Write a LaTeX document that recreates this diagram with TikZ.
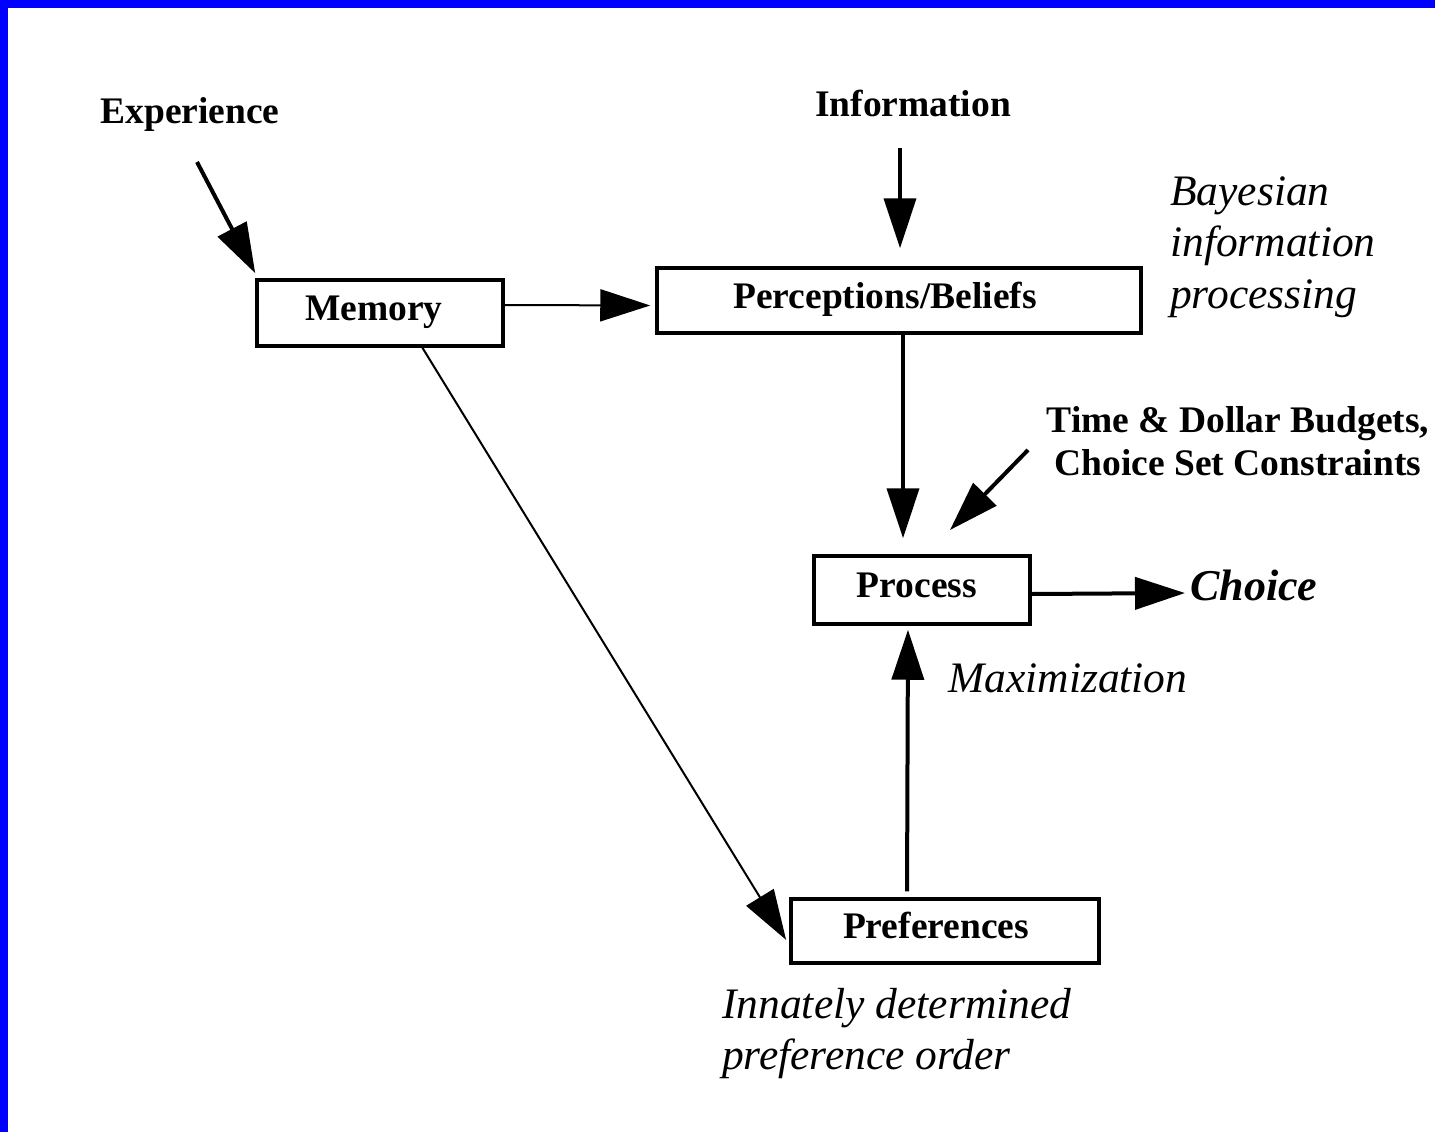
\documentclass[tikz,border=0pt]{standalone}
\usepackage{fontspec}
\setmainfont{Liberation Serif}
\usetikzlibrary{arrows.meta,calc}

\begin{document}
\begin{tikzpicture}[x=1pt,y=-1pt,
		box/.style={draw,line width=3.5pt,inner sep=0pt,text height=27pt,text depth=12pt,font=\fontsize{37.5}{43}\selectfont\bfseries},
		lab/.style={inner sep=0pt,font=\fontsize{37.5}{43}\selectfont\bfseries},
		note/.style={inner sep=0pt,align=left,font=\fontsize{43.5}{51.5}\selectfont\itshape},
		arr/.style={-{Triangle[length=50pt,width=32pt]},line width=4pt},
		thinarr/.style={arr,line width=2pt}]
		\useasboundingbox (0,0) rectangle (1435,1132);
		\fill[blue] (0,0) rectangle (8,1132);
		\fill[blue] (0,0) rectangle (1435,8);
		
		% boxes
		\node[box,minimum width=246pt,minimum height=66pt] (memory) at (380,313) {Memory\hspace*{12pt}};
		\node[box,minimum width=484pt,minimum height=65pt] (percep) at (899,300.5) {Perceptions/Beliefs\hspace*{28pt}};
		\node[box,minimum width=216pt,minimum height=68pt] (process) at (922,590) {Process\hspace*{10pt}};
		\node[box,minimum width=308pt,minimum height=64pt] (prefs) at (945,931) {Preferences\hspace*{18pt}};
		
		% labels
		\node[lab,anchor=base] (experience) at (190,123) {Experience};
		\node[lab,anchor=base] (info) at (913,116) {Information};
		\node[lab,align=center,anchor=north] (budgets) at (1238,406) {Time \& Dollar Budgets,\\Choice Set Constraints};
		\node[inner sep=0pt,anchor=base west,font=\fontsize{44}{51}\selectfont\bfseries\itshape] (choice) at (1190,600) {Choice};
		\node[note,anchor=north west] (bayes) at (1170,176) {Bayesian\\information\\processing};
		\node[note,anchor=base west] (maxim) at (948,692) {Maximization};
		\node[note,anchor=north west] (innate) at (722,988) {Innately determined\\preference order};
		
		\coordinate (exptail) at (197,162);
		\coordinate (infotail) at (900,148);
		\coordinate (budtail) at (1028,450);
		\coordinate (budtip) at (950,530);
		
		% arrows
		\draw[arr] (exptail) -- ($(memory.north west)+(0,-5)$);
		\draw[arr,shorten >=18pt] (infotail) -- (infotail |- percep.north);
		\draw[thinarr,shorten >=5pt] ($(memory.east)+(0,-8)$) -- ($(percep.west)+(0,5)$);
		\draw[arr,shorten >=16pt] ($(percep.south)+(4,0)$) -- ($(process.north)+(-19,0)$);
		\draw[arr] (budtail) -- (budtip);
		\draw[arr,shorten >=5pt] ($(process.east)+(0,4)$) -- ($(process.east -| choice.west)+(0,3)$);
		\draw[arr,shorten <=6pt,shorten >=4pt] ($(prefs.north)+(-38,0)$) -- ($(process.south)+(-14,0)$);
		\draw[thinarr,shorten >=6pt] ($(memory.south west)!0.67!(memory.south east)$) -- ($(prefs.west)+(0,14)$);
\end{tikzpicture}
\end{document}
